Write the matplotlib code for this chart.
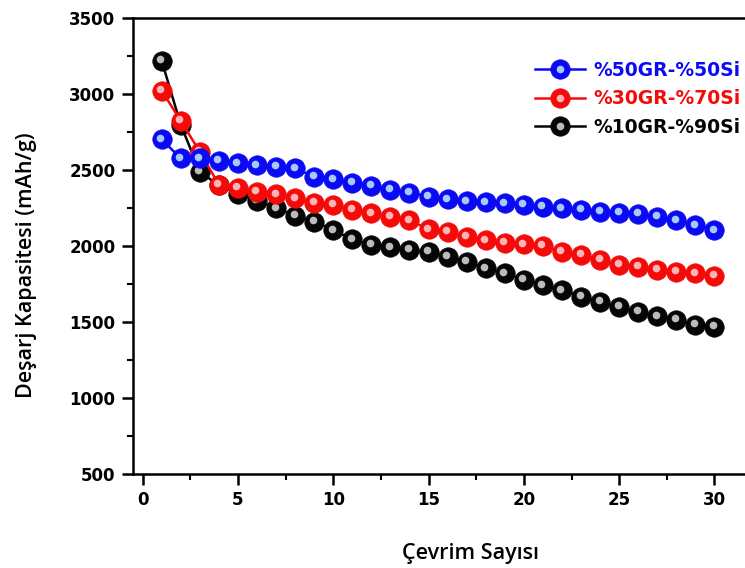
import matplotlib
matplotlib.use("Agg")
import matplotlib.pyplot as plt
import matplotlib.transforms as mtransforms
from matplotlib.ticker import MultipleLocator
from matplotlib.legend_handler import HandlerTuple

# ---- data ----
cycles = list(range(1, 31))

gr50_si50 = [2703, 2578, 2578, 2563, 2545, 2534, 2523, 2512, 2457, 2440,
             2418, 2396, 2370, 2352, 2326, 2308, 2297, 2289, 2282, 2271,
             2260, 2249, 2238, 2227, 2220, 2212, 2194, 2172, 2139, 2106]

gr30_si70 = [3024, 2825, 2622, 2405, 2385, 2359, 2343, 2315, 2286, 2271,
             2238, 2216, 2194, 2172, 2111, 2095, 2062, 2040, 2023, 2014,
             2001, 1964, 1942, 1909, 1876, 1865, 1843, 1832, 1821, 1804]

gr10_si90 = [3221, 2800, 2490, 2400, 2345, 2300, 2250, 2200, 2161, 2106,
             2045, 2008, 1992, 1975, 1964, 1931, 1898, 1854, 1821, 1780,
             1744, 1711, 1667, 1634, 1601, 1568, 1540, 1514, 1481, 1470]

labels = ["%50GR-%50Si", "%30GR-%70Si", "%10GR-%90Si"]
x_ticks = [0, 5, 10, 15, 20, 25, 30]
y_ticks = [500, 1000, 1500, 2000, 2500, 3000, 3500]

# style per series: (main colour, highlight colour)
styles = {
    "%50GR-%50Si": ("#0a0af5", "#b8e0f5"),
    "%30GR-%70Si": ("#f50a0a", "#ffc8c8"),
    "%10GR-%90Si": ("#050505", "#d0d0d0"),
}

fig = plt.figure(figsize=(7.45, 5.68), dpi=100)
ax = fig.add_axes([0.1781, 0.1655, 0.8219, 0.8023])

# highlight spot shifted a bit up-left, like a shiny sphere
shift = mtransforms.ScaledTranslation(-1.5 / 100, 1.5 / 100, fig.dpi_scale_trans)

handles = {}
# black first, blue last (blue sits on top)
for name, vals in [(labels[2], gr10_si90), (labels[1], gr30_si70), (labels[0], gr50_si50)]:
    col, hi = styles[name]
    base, = ax.plot(cycles, vals, color=col, lw=1.8, marker="o", ms=14,
                    mfc=col, mec=col, mew=0.5)
    spot, = ax.plot(cycles, vals, ls="none", marker="o", ms=5.5, mfc=hi,
                    mec="none", alpha=0.9, transform=ax.transData + shift)
    handles[name] = (base, spot)

ax.set_xlim(-0.52, 31.6)
ax.set_ylim(500, 3500)
ax.set_xticks(x_ticks)
ax.set_yticks(y_ticks)
ax.xaxis.set_minor_locator(MultipleLocator(2.5))
ax.yaxis.set_minor_locator(MultipleLocator(250))

for side in ["left", "bottom", "top"]:
    ax.spines[side].set_linewidth(1.8)
ax.spines["right"].set_visible(False)

ax.tick_params(which="major", direction="out", length=8, width=1.8,
               labelsize=12, pad=4.5)
ax.tick_params(which="minor", direction="out", length=4.5, width=1.5)
ax.tick_params(top=False, right=False, which="both")
for t in ax.get_xticklabels() + ax.get_yticklabels():
    t.set_fontweight("bold")
    t.set_family("DejaVu Sans")

ax.set_xlabel("Çevrim Sayısı", fontsize=15.5, family="Open Sans", fontweight="semibold")
ax.set_ylabel("Deşarj Kapasitesi (mAh/g)", fontsize=15.5, family="Open Sans",
              fontweight="semibold")
ax.xaxis.set_label_coords(0.551, -0.151)
ax.yaxis.set_label_coords(-0.157, 0.459)

leg = ax.legend([handles[n] for n in labels], labels,
                handler_map={tuple: HandlerTuple(ndivide=1)},
                loc="upper left", bbox_to_anchor=(0.718, 0.893),
                bbox_transform=fig.transFigure, frameon=False,
                prop={"family": "DejaVu Sans", "weight": "bold", "size": 13.5},
                handlelength=2.67, handletextpad=0.43, labelspacing=0.5,
                borderpad=0, borderaxespad=0)
for txt, n in zip(leg.get_texts(), labels):
    txt.set_color(styles[n][0])

fig.savefig("out.png", dpi=100)
